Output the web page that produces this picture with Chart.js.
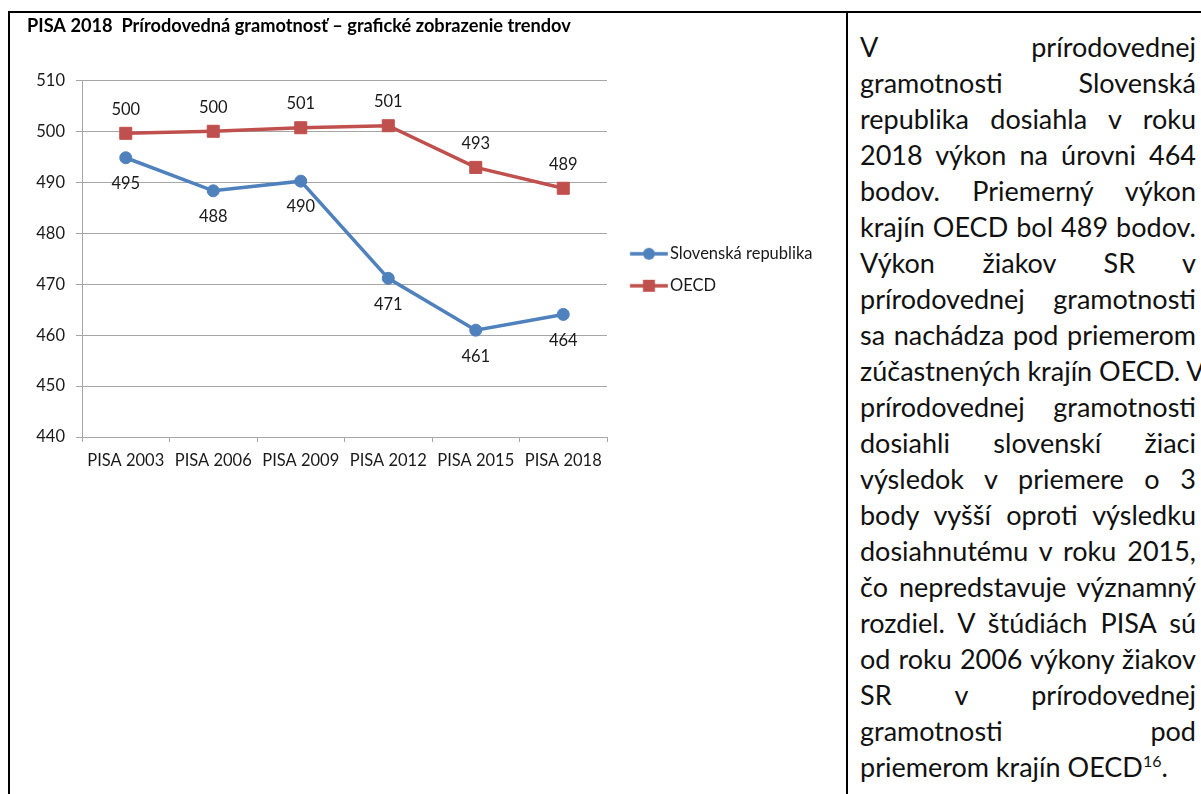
<!DOCTYPE html>
<html>
<head>
<meta charset="utf-8">
<script src="https://cdn.jsdelivr.net/npm/chart.js@4/dist/chart.umd.min.js"></script>
<style>
  html, body { margin: 0; padding: 0; background: #fff; }
  body { width: 1201px; height: 794px; position: relative; overflow: hidden; font-family: Lato, sans-serif; }
  .hline { position: absolute; left: 8px; top: 11px; width: 1193px; height: 2px; background: #000; }
  .vleft { position: absolute; left: 8px; top: 11px; width: 2px; height: 783px; background: #000; }
  .vmid { position: absolute; left: 846px; top: 11px; width: 2px; height: 783px; background: #000; }
  #chartWrap { position: absolute; left: 10px; top: 14px; width: 836px; height: 480px; }
  #txt { position: absolute; left: 860px; top: 29px; width: 336px; font-size: 27px; line-height: 36px; color: #111; }
  #txt div { white-space: nowrap; text-align: justify; text-align-last: justify; }
  #txt div.last { text-align-last: left; }
  #txt sup { font-size: 16px; line-height: 0; vertical-align: 10px; }
</style>
</head>
<body>
<div class="hline"></div>
<div class="vleft"></div>
<div class="vmid"></div>
<div id="chartWrap"><canvas id="chartPisa"></canvas></div>
<div id="txt">
  <div>V prírodovednej</div>
  <div>gramotnosti Slovenská</div>
  <div>republika dosiahla v&nbsp;roku</div>
  <div>2018 výkon na úrovni 464</div>
  <div>bodov. Priemerný výkon</div>
  <div>krajín OECD bol 489 bodov.</div>
  <div>Výkon žiakov SR v</div>
  <div>prírodovednej gramotnosti</div>
  <div>sa nachádza pod priemerom</div>
  <div>zúčastnených krajín OECD. V</div>
  <div>prírodovednej gramotnosti</div>
  <div>dosiahli slovenskí žiaci</div>
  <div>výsledok v priemere o 3</div>
  <div>body vyšší oproti výsledku</div>
  <div>dosiahnutému v roku 2015,</div>
  <div>čo nepredstavuje významný</div>
  <div>rozdiel. V štúdiách PISA sú</div>
  <div>od roku 2006 výkony žiakov</div>
  <div>SR v prírodovednej</div>
  <div>gramotnosti pod</div>
  <div class="last">priemerom krajín OECD<sup>16</sup>.</div>
</div>
<script>
var categories = ["PISA 2003", "PISA 2006", "PISA 2009", "PISA 2012", "PISA 2015", "PISA 2018"];
var slovensko = [494.9, 488.4, 490.3, 471.2, 461.0, 464.1];
var oecd = [499.7, 500.1, 500.8, 501.2, 493.0, 488.9];
var yMin = 440;
var yMax = 510;
var yStep = 10;

var blue = "#4f81bd";
var red = "#c0504d";
var gridGray = "#a6a6a6";

Chart.defaults.font.family = "Lato";
Chart.defaults.color = "#1a1a1a";

// legend symbol: short line with the marker in the middle
function legendSymbol(color, square) {
    var c = document.createElement("canvas");
    c.width = 52;
    c.height = 16;
    var g = c.getContext("2d");
    g.strokeStyle = color;
    g.lineWidth = 3.5;
    g.beginPath();
    g.moveTo(13.8, 8);
    g.lineTo(51.8, 8);
    g.stroke();
    g.fillStyle = color;
    if (square) {
        g.fillRect(26.8, 2, 12, 12);
    } else {
        g.beginPath();
        g.arc(32.8, 8, 6, 0, Math.PI * 2);
        g.fill();
    }
    return c;
}

var valueLabels = {
    id: "valueLabels",
    afterDatasetsDraw: function (chart) {
        var ctx = chart.ctx;
        ctx.save();
        ctx.font = "16.5px Lato";
        ctx.fillStyle = "#1a1a1a";
        ctx.textAlign = "center";
        ctx.textBaseline = "middle";
        chart.data.datasets.forEach(function (ds, i) {
            var meta = chart.getDatasetMeta(i);
            meta.data.forEach(function (pt, j) {
                var dy = ds.labelBelow ? 26 : -24;
                ctx.fillText(Math.round(ds.data[j]), pt.x, pt.y + dy);
            });
        });
        ctx.restore();
    }
};

var chart = new Chart(document.getElementById("chartPisa").getContext("2d"), {
    type: "line",
    data: {
        labels: categories,
        datasets: [
            {
                label: "Slovenská republika",
                data: slovensko,
                borderColor: blue,
                backgroundColor: blue,
                borderWidth: 3.5,
                pointStyle: "circle",
                pointRadius: 6,
                pointBorderWidth: 1,
                pointBackgroundColor: blue,
                labelBelow: true
            },
            {
                label: "OECD",
                data: oecd,
                borderColor: red,
                backgroundColor: red,
                borderWidth: 3.5,
                pointStyle: "rect",
                pointRadius: 8.5,
                pointBorderWidth: 1,
                pointBackgroundColor: red,
                labelBelow: false
            }
        ]
    },
    options: {
        responsive: true,
        maintainAspectRatio: false,
        animation: false,
        layout: { padding: { left: 17, right: 23.5, top: 0, bottom: 0 } },
        plugins: {
            title: {
                display: true,
                text: "PISA 2018  Prírodovedná gramotnosť – grafické zobrazenie trendov",
                align: "start",
                color: "#000",
                font: { size: 18.2, weight: "bold" },
                padding: { top: 1.5, bottom: 43.6 }
            },
            legend: {
                position: "right",
                fullSize: false,
                align: "center",
                maxWidth: 320,
                title: { display: true, text: " ", font: { size: 18 }, padding: 0 },
                labels: {
                    usePointStyle: true,
                    pointStyleWidth: 39.25,
                    padding: 15.5,
                    font: { size: 16.5 },
                    color: "#1a1a1a",
                    generateLabels: function (ch) {
                        return ch.data.datasets.map(function (ds, i) {
                            return {
                                text: ds.label,
                                pointStyle: legendSymbol(ds.borderColor, ds.pointStyle === "rect"),
                                fillStyle: ds.borderColor,
                                strokeStyle: ds.borderColor,
                                lineWidth: 0,
                                hidden: false,
                                datasetIndex: i
                            };
                        });
                    }
                }
            },
            tooltip: { enabled: false }
        },
        scales: {
            x: {
                offset: true,
                grid: { display: true, offset: true, drawOnChartArea: false, drawTicks: true, tickLength: 5, color: gridGray },
                border: { display: true, color: gridGray, width: 1 },
                ticks: { font: { size: 16.5 }, padding: 9, color: "#1a1a1a", maxRotation: 0 },
                afterFit: function (scale) { scale.height = 57; }
            },
            y: {
                min: yMin,
                max: yMax,
                ticks: { stepSize: yStep, font: { size: 16.5 }, padding: 11, color: "#1a1a1a" },
                grid: { color: gridGray, tickLength: 6, drawTicks: true },
                border: { display: true, color: gridGray, width: 1 },
                afterFit: function (scale) { scale.width = 55; }
            }
        }
    },
    plugins: [valueLabels]
});
</script>
</body>
</html>
